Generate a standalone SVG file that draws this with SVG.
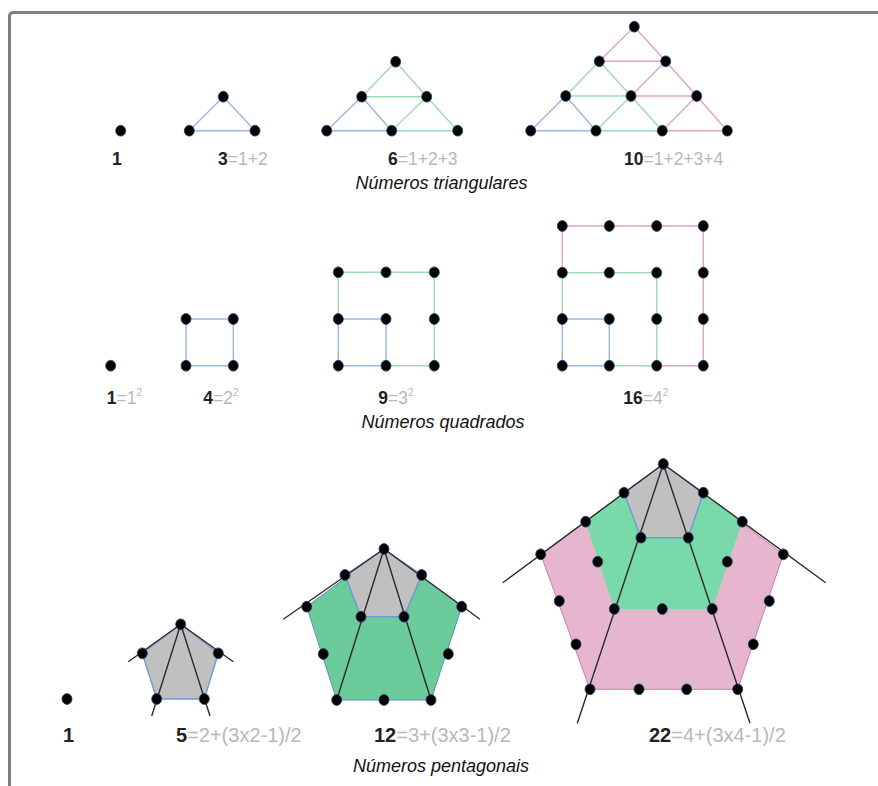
<svg xmlns="http://www.w3.org/2000/svg" width="878" height="786" viewBox="0 0 878 786">
<style>
.dot{fill:#000;stroke:#23406b;stroke-width:0.8}
.e{fill:none;stroke-width:1.4;stroke-linecap:round;stroke-linejoin:round}
.b{stroke:#9cb8de}
.g{stroke:#9bdcb4}
.p{stroke:#e2a3c2}
.k{stroke:#2a2a2a;stroke-width:1.4;fill:none}
.lbl{font-family:"Liberation Sans",Arial,sans-serif;fill:#b8b8b8}
.num{font-weight:bold;fill:#222}
.sup{font-size:10px}
.title{font-family:"Liberation Sans",Arial,sans-serif;font-style:italic;font-size:18px;fill:#111}
</style>
<rect width="878" height="786" fill="#fff"/>
<path d="M9.5 786 V16.5 Q9.5 12.5 13.5 12.5 H878" fill="none" stroke="#808080" stroke-width="3"/>

<g id="connectors">
  <path class="e b" d="M223.3 96.7 L189.3 130.7 L255 130.7 Z"/>
  <path class="e b" d="M326.7 130.7 L361.7 96.7 L391.7 130.7 Z"/>
  <path class="e g" d="M361.7 96.7 L395.7 61.7 L426.7 96.7 Z M426.7 96.7 L391.7 130.7 L457.7 130.7 Z"/>
  <path class="e b" d="M530.7 130.7 L565.7 96 L596 130.7 Z"/>
  <path class="e g" d="M565.7 96 L599.3 61.3 L631 96 Z M631 96 L596 130.7 L662.3 130.7 Z"/>
  <path class="e p" d="M599.3 61.3 L634.3 26.7 L665.7 61.3 Z M665.7 61.3 L631 96 L696.7 96 Z M696.7 96 L662.3 130.7 L727.3 130.7 Z"/>
  <path class="e b" d="M186 319 H233.3 V365.7 H186 Z"/>
  <path class="e b" d="M338.3 319 H386 V365.7 H338.3 Z"/>
  <path class="e g" d="M338.3 319 V272.3 H434.3 V365.7 H386"/>
  <path class="e b" d="M562.3 319 H609.3 V365.7 H562.3 Z"/>
  <path class="e g" d="M562.3 319 V272.7 H656.7 V365.7 H609.3"/>
  <path class="e p" d="M562.3 272.7 V226 H703.3 V365.7 H656.7"/>
</g>

<g id="pent-5-shape">
  <polygon points="180.7,624.3 142.3,653.3 156.7,699 204.3,699 218.3,653.3" fill="#c0c0c0" stroke="#6b9bd2" stroke-width="1.4"/>
  <path class="k" d="M128.3 661.7 L180.7 624.3 L233.3 661.7 M180.7 624.3 L151.7 716 M180.7 624.3 L210 716"/>
</g>
<g id="pent-12-shape">
  <polygon points="384,549 306.7,606.7 336.7,700 431,700 461.7,606.7" fill="#6ccb9a" stroke="#5a8fb8" stroke-width="1"/>
  <polygon points="384,549 345,575 361,616.7 404,616.7 421.7,575" fill="#c0c0c0" stroke="#6b9bd2" stroke-width="1.4"/>
  <path class="k" d="M283.3 619.3 L384 549 L480 619.3 M384 549 L336.7 700 M384 549 L431 700"/>
</g>
<g id="pent-22-shape">
  <polygon points="663.3,464 540.7,554.3 590,689.3 737.7,689.3 783.3,554.3" fill="#e6b6ce" stroke="#d07aa6" stroke-width="1"/>
  <polygon points="663.3,464 585.7,521.7 614.3,609 712.3,609 742.3,521.7" fill="#79d9a9"/>
  <polygon points="663.3,464 624,492.7 641,537.7 688.3,537.7 703.3,492.7" fill="#c0c0c0" stroke="#6b9bd2" stroke-width="1.4"/>
  <path class="k" d="M502.7 582.7 L663.3 464 L825.7 582.7 M663.3 464 L577.3 723.3 M663.3 464 L750 723.3"/>
</g>

<g id="tri-1"><ellipse class="dot" cx="120.7" cy="130.7" rx="5" ry="5.4"/></g>
<g id="tri-3">
  <ellipse class="dot" cx="223.3" cy="96.7" rx="5" ry="5.4"/><ellipse class="dot" cx="189.3" cy="130.7" rx="5" ry="5.4"/><ellipse class="dot" cx="255" cy="130.7" rx="5" ry="5.4"/>
</g>
<g id="tri-6">
  <ellipse class="dot" cx="395.7" cy="61.7" rx="5" ry="5.4"/>
  <ellipse class="dot" cx="361.7" cy="96.7" rx="5" ry="5.4"/><ellipse class="dot" cx="426.7" cy="96.7" rx="5" ry="5.4"/>
  <ellipse class="dot" cx="326.7" cy="130.7" rx="5" ry="5.4"/><ellipse class="dot" cx="391.7" cy="130.7" rx="5" ry="5.4"/><ellipse class="dot" cx="457.7" cy="130.7" rx="5" ry="5.4"/>
</g>
<g id="tri-10">
  <ellipse class="dot" cx="634.3" cy="26.7" rx="5" ry="5.4"/>
  <ellipse class="dot" cx="599.3" cy="61.3" rx="5" ry="5.4"/><ellipse class="dot" cx="665.7" cy="61.3" rx="5" ry="5.4"/>
  <ellipse class="dot" cx="565.7" cy="96" rx="5" ry="5.4"/><ellipse class="dot" cx="631" cy="96" rx="5" ry="5.4"/><ellipse class="dot" cx="696.7" cy="96" rx="5" ry="5.4"/>
  <ellipse class="dot" cx="530.7" cy="130.7" rx="5" ry="5.4"/><ellipse class="dot" cx="596" cy="130.7" rx="5" ry="5.4"/><ellipse class="dot" cx="662.3" cy="130.7" rx="5" ry="5.4"/><ellipse class="dot" cx="727.3" cy="130.7" rx="5" ry="5.4"/>
</g>

<g id="sq-1"><ellipse class="dot" cx="110.7" cy="365.7" rx="5" ry="5.4"/></g>
<g id="sq-4">
  <ellipse class="dot" cx="186" cy="319" rx="5" ry="5.4"/><ellipse class="dot" cx="233.3" cy="319" rx="5" ry="5.4"/>
  <ellipse class="dot" cx="186" cy="365.7" rx="5" ry="5.4"/><ellipse class="dot" cx="233.3" cy="365.7" rx="5" ry="5.4"/>
</g>
<g id="sq-9">
  <ellipse class="dot" cx="338.3" cy="272.3" rx="5" ry="5.4"/><ellipse class="dot" cx="386" cy="272.3" rx="5" ry="5.4"/><ellipse class="dot" cx="434.3" cy="272.3" rx="5" ry="5.4"/>
  <ellipse class="dot" cx="338.3" cy="319" rx="5" ry="5.4"/><ellipse class="dot" cx="386" cy="319" rx="5" ry="5.4"/><ellipse class="dot" cx="434.3" cy="319" rx="5" ry="5.4"/>
  <ellipse class="dot" cx="338.3" cy="365.7" rx="5" ry="5.4"/><ellipse class="dot" cx="386" cy="365.7" rx="5" ry="5.4"/><ellipse class="dot" cx="434.3" cy="365.7" rx="5" ry="5.4"/>
</g>
<g id="sq-16">
  <ellipse class="dot" cx="562.3" cy="226" rx="5" ry="5.4"/><ellipse class="dot" cx="609.3" cy="226" rx="5" ry="5.4"/><ellipse class="dot" cx="656.7" cy="226" rx="5" ry="5.4"/><ellipse class="dot" cx="703.3" cy="226" rx="5" ry="5.4"/>
  <ellipse class="dot" cx="562.3" cy="272.7" rx="5" ry="5.4"/><ellipse class="dot" cx="609.3" cy="272.7" rx="5" ry="5.4"/><ellipse class="dot" cx="656.7" cy="272.7" rx="5" ry="5.4"/><ellipse class="dot" cx="703.3" cy="272.7" rx="5" ry="5.4"/>
  <ellipse class="dot" cx="562.3" cy="319" rx="5" ry="5.4"/><ellipse class="dot" cx="609.3" cy="319" rx="5" ry="5.4"/><ellipse class="dot" cx="656.7" cy="319" rx="5" ry="5.4"/><ellipse class="dot" cx="703.3" cy="319" rx="5" ry="5.4"/>
  <ellipse class="dot" cx="562.3" cy="365.7" rx="5" ry="5.4"/><ellipse class="dot" cx="609.3" cy="365.7" rx="5" ry="5.4"/><ellipse class="dot" cx="656.7" cy="365.7" rx="5" ry="5.4"/><ellipse class="dot" cx="703.3" cy="365.7" rx="5" ry="5.4"/>
</g>

<g id="pent-1"><ellipse class="dot" cx="67" cy="699" rx="5" ry="5.4"/></g>
<g id="pent-5">
  <ellipse class="dot" cx="180.7" cy="624.3" rx="5" ry="5.4"/><ellipse class="dot" cx="142.3" cy="653.3" rx="5" ry="5.4"/><ellipse class="dot" cx="218.3" cy="653.3" rx="5" ry="5.4"/>
  <ellipse class="dot" cx="156.7" cy="699" rx="5" ry="5.4"/><ellipse class="dot" cx="204.3" cy="699" rx="5" ry="5.4"/>
</g>
<g id="pent-12">
  <ellipse class="dot" cx="384" cy="549" rx="5" ry="5.4"/>
  <ellipse class="dot" cx="345" cy="575" rx="5" ry="5.4"/><ellipse class="dot" cx="421.7" cy="575" rx="5" ry="5.4"/>
  <ellipse class="dot" cx="361" cy="616.7" rx="5" ry="5.4"/><ellipse class="dot" cx="404" cy="616.7" rx="5" ry="5.4"/>
  <ellipse class="dot" cx="306.7" cy="606.7" rx="5" ry="5.4"/><ellipse class="dot" cx="461.7" cy="606.7" rx="5" ry="5.4"/>
  <ellipse class="dot" cx="323.3" cy="654" rx="5" ry="5.4"/><ellipse class="dot" cx="448.3" cy="654" rx="5" ry="5.4"/>
  <ellipse class="dot" cx="336.7" cy="700" rx="5" ry="5.4"/><ellipse class="dot" cx="384" cy="700" rx="5" ry="5.4"/><ellipse class="dot" cx="431" cy="700" rx="5" ry="5.4"/>
</g>
<g id="pent-22">
  <ellipse class="dot" cx="663.3" cy="464" rx="5" ry="5.4"/>
  <ellipse class="dot" cx="624" cy="492.7" rx="5" ry="5.4"/><ellipse class="dot" cx="703.3" cy="492.7" rx="5" ry="5.4"/>
  <ellipse class="dot" cx="585.7" cy="521.7" rx="5" ry="5.4"/><ellipse class="dot" cx="742.3" cy="521.7" rx="5" ry="5.4"/>
  <ellipse class="dot" cx="641" cy="537.7" rx="5" ry="5.4"/><ellipse class="dot" cx="688.3" cy="537.7" rx="5" ry="5.4"/>
  <ellipse class="dot" cx="540.7" cy="554.3" rx="5" ry="5.4"/><ellipse class="dot" cx="783.3" cy="554.3" rx="5" ry="5.4"/>
  <ellipse class="dot" cx="597.7" cy="561.7" rx="5" ry="5.4"/><ellipse class="dot" cx="727.3" cy="561.7" rx="5" ry="5.4"/>
  <ellipse class="dot" cx="614.3" cy="609" rx="5" ry="5.4"/><ellipse class="dot" cx="662.3" cy="609" rx="5" ry="5.4"/><ellipse class="dot" cx="712.3" cy="609" rx="5" ry="5.4"/>
  <ellipse class="dot" cx="559.3" cy="601" rx="5" ry="5.4"/><ellipse class="dot" cx="769.3" cy="601" rx="5" ry="5.4"/>
  <ellipse class="dot" cx="576" cy="644.3" rx="5" ry="5.4"/><ellipse class="dot" cx="753.3" cy="644.3" rx="5" ry="5.4"/>
  <ellipse class="dot" cx="590" cy="689.3" rx="5" ry="5.4"/><ellipse class="dot" cx="639" cy="689.3" rx="5" ry="5.4"/><ellipse class="dot" cx="686.7" cy="689.3" rx="5" ry="5.4"/><ellipse class="dot" cx="737.7" cy="689.3" rx="5" ry="5.4"/>
</g>

<g id="labels" class="lbl" font-size="17.5">
  <text x="112" y="165"><tspan class="num">1</tspan></text>
  <text x="218" y="165"><tspan class="num">3</tspan>=1+2</text>
  <text x="388" y="165"><tspan class="num">6</tspan>=1+2+3</text>
  <text x="624" y="165"><tspan class="num">10</tspan>=1+2+3+4</text>
  <text x="106.7" y="404"><tspan class="num">1</tspan>=1<tspan class="sup" dy="-8">2</tspan></text>
  <text x="203.3" y="404"><tspan class="num">4</tspan>=2<tspan class="sup" dy="-8">2</tspan></text>
  <text x="378.3" y="404"><tspan class="num">9</tspan>=3<tspan class="sup" dy="-8">2</tspan></text>
  <text x="623.3" y="404"><tspan class="num">16</tspan>=4<tspan class="sup" dy="-8">2</tspan></text>
  <text x="63" y="742" font-size="20"><tspan class="num">1</tspan></text>
  <text x="176" y="742" font-size="20"><tspan class="num">5</tspan>=2+(3x2-1)/2</text>
  <text x="374" y="742" font-size="20"><tspan class="num">12</tspan>=3+(3x3-1)/2</text>
  <text x="649" y="742" font-size="20"><tspan class="num">22</tspan>=4+(3x4-1)/2</text>
</g>
<g id="titles" class="title">
  <text x="441.5" y="189" text-anchor="middle">Números triangulares</text>
  <text x="443" y="428" text-anchor="middle">Números quadrados</text>
  <text x="441" y="772" text-anchor="middle">Números pentagonais</text>
</g>
</svg>
